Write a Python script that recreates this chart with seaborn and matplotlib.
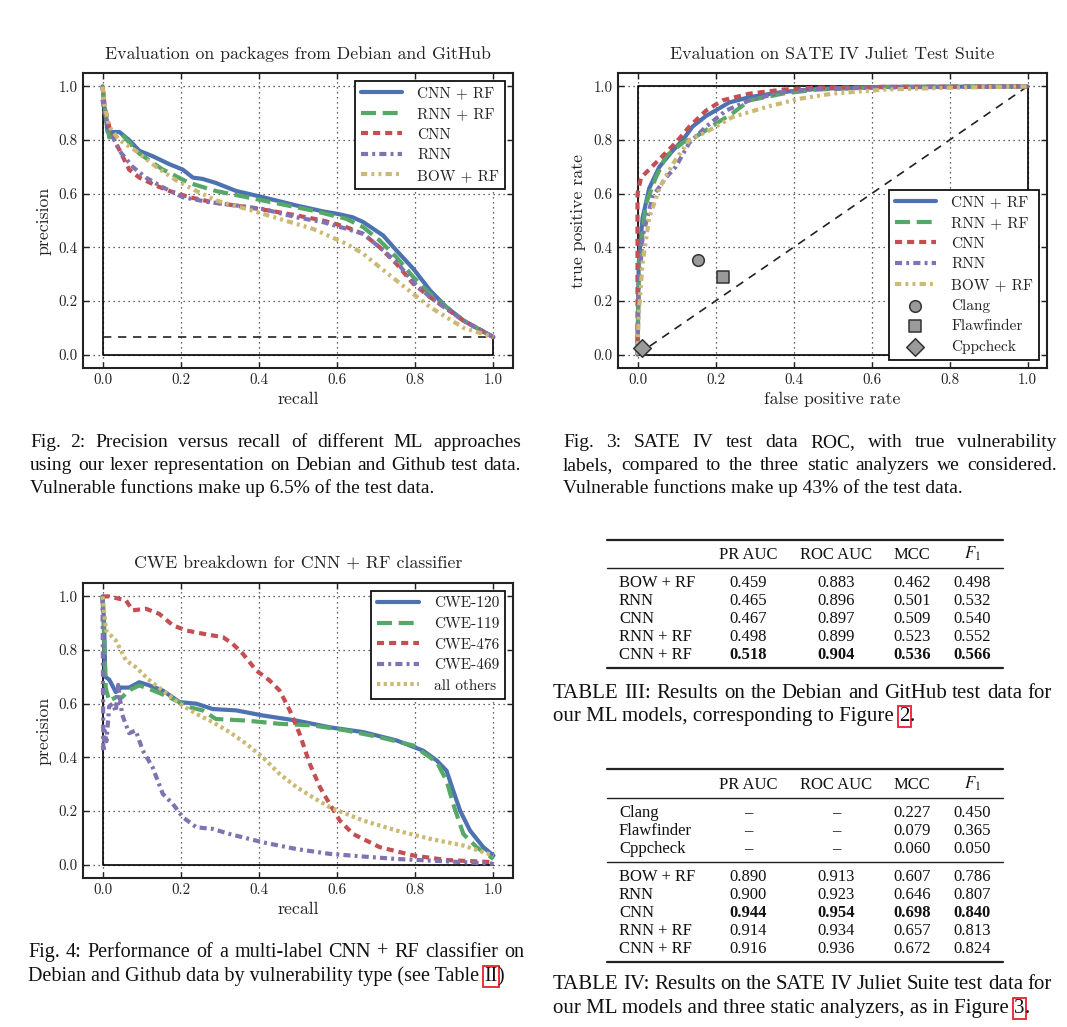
import numpy as np
import pandas as pd
import seaborn as sns
import matplotlib
matplotlib.use("Agg")
import matplotlib.pyplot as plt
from matplotlib.lines import Line2D
from matplotlib.font_manager import FontProperties

W, H = 1067, 1027
DPI = 100

# ---------------- Fig. 2 : precision / recall (Debian + GitHub) ----------------
cnn_rf_recall = [0.0, 0.005, 0.013, 0.043, 0.068, 0.094, 0.128, 0.171, 0.205, 0.231, 0.256, 0.29, 0.342,
                 0.41, 0.496, 0.564, 0.6, 0.64, 0.667, 0.718, 0.752, 0.795, 0.838, 0.88, 0.923, 1.0]
cnn_rf_prec = [1.0, 0.92, 0.83, 0.83, 0.80, 0.76, 0.74, 0.71, 0.69, 0.66, 0.655, 0.64, 0.61,
               0.587, 0.556, 0.534, 0.525, 0.512, 0.494, 0.444, 0.388, 0.32, 0.239, 0.177, 0.127, 0.065]
rnn_rf_recall = [0.0, 0.005, 0.017, 0.05, 0.094, 0.154, 0.222, 0.29, 0.368, 0.453, 0.538, 0.624, 0.667,
                 0.709, 0.752, 0.795, 0.838, 0.923, 1.0]
rnn_rf_prec = [1.0, 0.93, 0.81, 0.82, 0.75, 0.69, 0.64, 0.61, 0.587, 0.562, 0.537, 0.506, 0.475,
               0.425, 0.363, 0.289, 0.226, 0.127, 0.065]
cnn_recall = [0.0, 0.005, 0.017, 0.034, 0.068, 0.094, 0.137, 0.171, 0.222, 0.282, 0.368, 0.427, 0.496,
              0.564, 0.624, 0.667, 0.709, 0.752, 0.795, 0.838, 0.923, 1.0]
cnn_prec = [1.0, 0.93, 0.85, 0.79, 0.69, 0.66, 0.63, 0.61, 0.587, 0.568, 0.55, 0.537, 0.519,
            0.5, 0.475, 0.45, 0.40, 0.338, 0.264, 0.214, 0.127, 0.065]
rnn_recall = [0.0, 0.005, 0.017, 0.043, 0.077, 0.111, 0.154, 0.205, 0.274, 0.342, 0.41, 0.496, 0.564,
              0.624, 0.667, 0.709, 0.752, 0.795, 0.838, 0.923, 1.0]
rnn_prec = [0.95, 0.90, 0.84, 0.76, 0.70, 0.66, 0.624, 0.587, 0.568, 0.556, 0.543, 0.512, 0.494,
            0.469, 0.45, 0.40, 0.345, 0.27, 0.214, 0.127, 0.065]
bow_recall = [0.0, 0.005, 0.017, 0.043, 0.085, 0.137, 0.188, 0.24, 0.29, 0.368, 0.453, 0.538, 0.624,
              0.667, 0.709, 0.752, 0.795, 0.838, 0.923, 1.0]
bow_prec = [1.0, 0.93, 0.85, 0.80, 0.76, 0.70, 0.65, 0.61, 0.575, 0.543, 0.506, 0.469, 0.413,
            0.376, 0.326, 0.276, 0.226, 0.177, 0.10, 0.065]
base_rate = 0.065

# ---------------- Fig. 3 : ROC on SATE IV Juliet ----------------
roc_cnn_rf_fpr = [0, 0.003, 0.013, 0.03, 0.056, 0.09, 0.116, 0.141, 0.176, 0.2, 0.235, 0.287, 0.372, 0.458, 0.63, 1.0]
roc_cnn_rf_tpr = [0, 0.34, 0.51, 0.62, 0.70, 0.76, 0.80, 0.85, 0.89, 0.91, 0.94, 0.96, 0.979, 0.991, 0.998, 1.0]
roc_rnn_rf_fpr = [0, 0.004, 0.021, 0.047, 0.073, 0.116, 0.158, 0.2, 0.244, 0.287, 0.372, 0.458, 0.63, 1.0]
roc_rnn_rf_tpr = [0, 0.34, 0.56, 0.66, 0.74, 0.79, 0.82, 0.86, 0.90, 0.948, 0.973, 0.988, 0.998, 1.0]
roc_cnn_fpr = [0, 0, 0.009, 0.03, 0.064, 0.098, 0.133, 0.176, 0.218, 0.287, 0.372, 0.458, 0.63, 1.0]
roc_cnn_tpr = [0, 0.6, 0.66, 0.69, 0.74, 0.79, 0.85, 0.91, 0.948, 0.973, 0.988, 0.995, 0.998, 1.0]
roc_rnn_fpr = [0, 0.003, 0.013, 0.039, 0.073, 0.098, 0.133, 0.176, 0.227, 0.287, 0.372, 0.458, 0.63, 1.0]
roc_rnn_tpr = [0, 0.24, 0.44, 0.59, 0.66, 0.70, 0.79, 0.85, 0.91, 0.948, 0.979, 0.99, 0.996, 1.0]
roc_bow_fpr = [0, 0.003, 0.013, 0.03, 0.056, 0.09, 0.133, 0.184, 0.244, 0.33, 0.415, 0.5, 0.63, 0.8, 1.0]
roc_bow_tpr = [0, 0.15, 0.34, 0.51, 0.62, 0.71, 0.80, 0.836, 0.886, 0.923, 0.954, 0.973, 0.988, 0.995, 1.0]
tool_names = ["Clang", "Flawfinder", "Cppcheck"]
tool_fpr = [0.156, 0.219, 0.011]
tool_tpr = [0.351, 0.289, 0.025]

# ---------------- Fig. 4 : CWE breakdown ----------------
cwe120_recall = [0.0, 0.004, 0.007, 0.017, 0.034, 0.047, 0.068, 0.094, 0.12, 0.154, 0.197, 0.24, 0.282, 0.342,
                 0.41, 0.496, 0.581, 0.667, 0.752, 0.82, 0.855, 0.88, 0.897, 0.915, 0.94, 0.974, 1.0]
cwe120_prec = [1.0, 0.9, 0.70, 0.69, 0.643, 0.66, 0.66, 0.68, 0.668, 0.649, 0.606, 0.60, 0.58, 0.575,
               0.556, 0.537, 0.512, 0.494, 0.463, 0.425, 0.388, 0.35, 0.276, 0.2, 0.127, 0.065, 0.034]
cwe119_recall = [0.0, 0.004, 0.008, 0.017, 0.034, 0.05, 0.068, 0.094, 0.12, 0.171, 0.222, 0.256, 0.29,
                 0.368, 0.453, 0.538, 0.624, 0.709, 0.795, 0.855, 0.88, 0.897, 0.923, 0.957, 1.0]
cwe119_prec = [1.0, 0.85, 0.66, 0.61, 0.624, 0.624, 0.65, 0.668, 0.655, 0.624, 0.587, 0.575, 0.543,
               0.537, 0.525, 0.519, 0.5, 0.475, 0.444, 0.382, 0.313, 0.226, 0.114, 0.065, 0.021]
cwe476_recall = [0.0, 0.017, 0.06, 0.077, 0.111, 0.145, 0.18, 0.214, 0.256, 0.308, 0.333, 0.359, 0.393,
                 0.427, 0.453, 0.479, 0.504, 0.53, 0.556, 0.581, 0.607, 0.641, 0.709, 0.795, 0.88, 1.0]
cwe476_prec = [1.0, 1.0, 0.985, 0.948, 0.954, 0.935, 0.892, 0.873, 0.861, 0.848, 0.823, 0.786, 0.724,
               0.687, 0.649, 0.575, 0.488, 0.376, 0.289, 0.226, 0.164, 0.114, 0.065, 0.034, 0.017, 0.009]
cwe469_recall = [0.0, 0.002, 0.005, 0.01, 0.017, 0.026, 0.034, 0.04, 0.05, 0.068, 0.085, 0.103, 0.128,
                 0.154, 0.18, 0.205, 0.24, 0.282, 0.325, 0.41, 0.496, 0.581, 0.667, 0.752, 0.838, 0.923, 1.0]
cwe469_prec = [1.0, 0.42, 0.50, 0.46, 0.59, 0.60, 0.57, 0.67, 0.56, 0.49, 0.50, 0.425, 0.363,
               0.264, 0.226, 0.177, 0.139, 0.133, 0.114, 0.083, 0.058, 0.04, 0.03, 0.021, 0.015, 0.009, 0.003]
others_recall = [0.0, 0.009, 0.034, 0.06, 0.085, 0.12, 0.154, 0.197, 0.24, 0.282, 0.325, 0.368, 0.41,
                 0.453, 0.496, 0.538, 0.581, 0.624, 0.667, 0.752, 0.838, 0.923, 1.0]
others_prec = [1.0, 0.873, 0.836, 0.761, 0.736, 0.687, 0.649, 0.60, 0.562, 0.531, 0.494, 0.45, 0.40,
               0.338, 0.289, 0.251, 0.214, 0.189, 0.164, 0.127, 0.096, 0.071, 0.034]

# ---------------- Tables ----------------
tab_cols = ["PR AUC", "ROC AUC", "MCC", r"$F_1$"]
t3_models = ["BOW + RF", "RNN", "CNN", "RNN + RF", "CNN + RF"]
t3_pr_auc = [0.459, 0.465, 0.467, 0.498, 0.518]
t3_roc_auc = [0.883, 0.896, 0.897, 0.899, 0.904]
t3_mcc = [0.462, 0.501, 0.509, 0.523, 0.536]
t3_f1 = [0.498, 0.532, 0.540, 0.552, 0.566]

t4_tools = ["Clang", "Flawfinder", "Cppcheck"]
t4_tool_mcc = [0.227, 0.079, 0.060]
t4_tool_f1 = [0.450, 0.365, 0.050]
t4_models = ["BOW + RF", "RNN", "CNN", "RNN + RF", "CNN + RF"]
t4_pr_auc = [0.890, 0.900, 0.944, 0.914, 0.916]
t4_roc_auc = [0.913, 0.923, 0.954, 0.934, 0.936]
t4_mcc = [0.607, 0.646, 0.698, 0.657, 0.672]
t4_f1 = [0.786, 0.807, 0.840, 0.813, 0.824]

# ---------------- style ----------------
sns.set_theme(style="white")
plt.rcParams.update({
    "font.family": ["cmr10"],
    "mathtext.fontset": "stix",
    "axes.formatter.use_mathtext": True,
    "axes.unicode_minus": False,
})

BLUE, GREEN, RED, PURPLE, YELLOW = "#4C72B0", "#55A868", "#C44E52", "#8172B2", "#CCB974"
LS_CNN_RF = "-"
LS_RNN_RF = (0, (3.6, 1.6))
LS_CNN = (0, (1.7, 1.2))
LS_RNN = (0, (1.7, 1.0, 0.7, 1.0))
LS_BOW = (0, (1.5, 1.0, 0.7, 1.0, 0.7, 1.0))
LS_DOT = (0, (0.8, 0.8))
LW = 3.0

fig = plt.figure(figsize=(W / DPI, H / DPI), dpi=DPI)
fig.patch.set_facecolor("white")


def fx(px):
    return px / W


def fy(py):
    return 1 - py / H


def add_axes(l, t, r, b):
    return fig.add_axes([fx(l), fy(b), (r - l) / W, (b - t) / H])


def style_ax(ax, title, xlabel, ylabel):
    ax.set_xlim(-0.05, 1.05)
    ax.set_ylim(-0.05, 1.05)
    ticks = [0.0, 0.2, 0.4, 0.6, 0.8, 1.0]
    ax.set_xticks(ticks)
    ax.set_yticks(ticks)
    ax.set_xticklabels([f"{t:.1f}" for t in ticks])
    ax.set_yticklabels([f"{t:.1f}" for t in ticks])
    ax.set_axisbelow(True)
    ax.grid(True, linestyle=(0, (1, 3)), color="#333333", linewidth=0.9)
    ax.tick_params(direction="in", top=True, right=True, bottom=True, left=True,
                   length=4, width=1, color="#222222", labelcolor="#222222",
                   labelsize=10.8, pad=4)
    for s in ax.spines.values():
        s.set_color("#222222")
        s.set_linewidth(1.5)
    ax.set_title(title, fontsize=12.8, pad=10, color="#222222")
    ax.set_xlabel(xlabel, fontsize=12.8, labelpad=3, color="#222222")
    ax.set_ylabel(ylabel, fontsize=12.8, labelpad=5, color="#222222")


def curve(ax, x, y, color, ls, label=None, lw=LW, z=3):
    sns.lineplot(x=x, y=y, ax=ax, color=color, linestyle=ls, linewidth=lw,
                 sort=False, estimator=None, label=label, zorder=z)


def legend(ax, loc):
    leg = ax.legend(loc=loc, fontsize=11, handlelength=2.7, handletextpad=1.0,
                    labelspacing=0.45, borderpad=0.4, borderaxespad=0.5,
                    fancybox=False, framealpha=1, edgecolor="#111111")
    leg.get_frame().set_linewidth(1.3)
    for t in leg.get_texts():
        t.set_color("#222222")
    return leg


# ---- Fig. 2 ----
ax1 = add_axes(83, 73, 513, 368)
curve(ax1, [0, 0, 1, 1], [1, 0, 0, base_rate], "black", "-", lw=1.2, z=2)
curve(ax1, [0, 1], [base_rate, base_rate], "#222222", (0, (5, 4)), lw=1.2, z=2)
curve(ax1, cnn_rf_recall, cnn_rf_prec, BLUE, LS_CNN_RF, "CNN + RF")
curve(ax1, rnn_rf_recall, rnn_rf_prec, GREEN, LS_RNN_RF, "RNN + RF")
curve(ax1, cnn_recall, cnn_prec, RED, LS_CNN, "CNN")
curve(ax1, rnn_recall, rnn_prec, PURPLE, LS_RNN, "RNN")
curve(ax1, bow_recall, bow_prec, YELLOW, LS_BOW, "BOW + RF")
style_ax(ax1, "Evaluation on packages from Debian and GitHub", "recall", "precision")
legend(ax1, "upper right")

# ---- Fig. 3 ----
ax2 = add_axes(618, 73, 1047, 368)
curve(ax2, [0, 0, 1, 1, 0], [0, 1, 1, 0, 0], "black", "-", lw=1.2, z=2)
curve(ax2, [0, 1], [0, 1], "#222222", (0, (5, 4)), lw=1.2, z=2)
curve(ax2, roc_cnn_rf_fpr, roc_cnn_rf_tpr, BLUE, LS_CNN_RF, "CNN + RF")
curve(ax2, roc_rnn_rf_fpr, roc_rnn_rf_tpr, GREEN, LS_RNN_RF, "RNN + RF")
curve(ax2, roc_cnn_fpr, roc_cnn_tpr, RED, LS_CNN, "CNN")
curve(ax2, roc_rnn_fpr, roc_rnn_tpr, PURPLE, LS_RNN, "RNN")
curve(ax2, roc_bow_fpr, roc_bow_tpr, YELLOW, LS_BOW, "BOW + RF")
for name, xv, yv, mk, sz in zip(tool_names, tool_fpr, tool_tpr, ["o", "s", "D"], [70, 70, 80]):
    sns.scatterplot(x=[xv], y=[yv], ax=ax2, marker=mk, s=sz, color="#9a9a9a",
                    edgecolor="#333333", linewidth=1.1, label=name, zorder=5)
style_ax(ax2, "Evaluation on SATE IV Juliet Test Suite", "false positive rate", "true positive rate")
legend(ax2, "lower right")

# ---- Fig. 4 ----
ax3 = add_axes(83, 583, 513, 878)
curve(ax3, [0, 0, 1], [1, 0, 0], "black", "-", lw=1.2, z=2)
curve(ax3, cwe120_recall, cwe120_prec, BLUE, LS_CNN_RF, "CWE-120")
curve(ax3, cwe119_recall, cwe119_prec, GREEN, LS_RNN_RF, "CWE-119")
curve(ax3, cwe476_recall, cwe476_prec, RED, LS_CNN, "CWE-476")
curve(ax3, cwe469_recall, cwe469_prec, PURPLE, LS_RNN, "CWE-469")
curve(ax3, others_recall, others_prec, YELLOW, LS_DOT, "all others")
style_ax(ax3, "CWE breakdown for CNN + RF classifier", "recall", "precision")
legend(ax3, "upper right")

# ---------------- text helpers ----------------
renderer = fig.canvas.get_renderer()
CAP_S = FontProperties(family="Liberation Serif", size=14)
CAP_M = FontProperties(family="Liberation Serif", size=14.5)
CAP = FontProperties(family="Liberation Serif", size=15)
TAB = FontProperties(family="Liberation Serif", size=12)
TABB = FontProperties(family="Liberation Serif", size=12, weight="bold")
TXT = "#111111"


def tw(s, fp):
    return renderer.get_text_width_height_descent(s, fp, ismath=False)[0]


def put(x, yb, s, fp, boxed=False, ha="left"):
    kw = {}
    if boxed:
        kw["bbox"] = dict(boxstyle="square,pad=0.06", fc="none", ec="#e8202a", lw=1.3)
    fig.text(fx(x), fy(yb), s, fontproperties=fp, ha=ha, va="baseline", color=TXT, **kw)


def justified(x0, x1, yb, line, fp=CAP):
    words = line.split()
    ws = [tw(w, fp) for w in words]
    gap = (x1 - x0 - sum(ws)) / (len(words) - 1)
    x = x0
    for w, wd in zip(words, ws):
        put(x, yb, w, fp)
        x += wd + gap


def ragged(x0, yb, pieces, fp=CAP):
    space = tw("a a", fp) - tw("aa", fp)
    x = x0
    for text, boxed in pieces:
        stripped = text.rstrip(" ")
        put(x, yb, stripped, fp, boxed)
        x += tw(stripped, fp) + space * (len(text) - len(stripped))


# captions of figures
justified(30, 521, 447, "Fig. 2: Precision versus recall of different ML approaches", CAP_S)
justified(30, 521, 470, "using our lexer representation on Debian and Github test data.", CAP_S)
ragged(30, 493, [("Vulnerable functions make up 6.5% of the test data.", False)], CAP_S)

justified(563, 1057, 447, "Fig. 3: SATE IV test data ROC, with true vulnerability", CAP_S)
justified(563, 1057, 470, "labels, compared to the three static analyzers we considered.", CAP_S)
ragged(563, 493, [("Vulnerable functions make up 43% of the test data.", False)], CAP_S)

justified(28, 524, 957, "Fig. 4: Performance of a multi-label CNN + RF classifier on", CAP_M)
ragged(28, 981, [("Debian and Github data by vulnerability type (see Table ", False), ("II", True), (")", False)], CAP_M)

justified(553, 1052, 698, "TABLE III: Results on the Debian and GitHub test data for")
ragged(553, 721, [("our ML models, corresponding to Figure ", False), ("2", True), (".", False)])

justified(553, 1052, 989, "TABLE IV: Results on the SATE IV Juliet Suite test data for")
ragged(553, 1013, [("our ML models and three static analyzers, as in Figure ", False), ("3", True), (".", False)])


# ---------------- tables ----------------
COL_X = [748, 836, 912, 972]
LABEL_X = 619


def rule(y, lw):
    fig.add_artist(Line2D([fx(607), fx(1003)], [fy(y), fy(y)], transform=fig.transFigure,
                          color="#222222", linewidth=lw))


def header(y):
    for cx, c in zip(COL_X, tab_cols):
        fig.text(fx(cx), fy(y + 5), c, fontproperties=TAB, ha="center", va="baseline", color=TXT)


def row(y, label, values, bold_flags):
    put(LABEL_X, y + 5, label, TAB)
    for cx, v, b in zip(COL_X, values, bold_flags):
        s = "\u2013" if v is None else f"{v:.3f}"
        put(cx, y + 5, s, TABB if b else TAB, ha="center")


# Table III
rule(540, 1.6)
header(554)
rule(568, 1.0)
t3_cols = [t3_pr_auc, t3_roc_auc, t3_mcc, t3_f1]
for i, m in enumerate(t3_models):
    vals = [c[i] for c in t3_cols]
    bolds = [c[i] == max(c) for c in t3_cols]
    row(582 + 18 * i, m, vals, bolds)
rule(668, 1.6)

# Table IV
rule(769, 1.6)
header(784)
rule(798, 1.0)
for i, m in enumerate(t4_tools):
    row(812 + 18 * i, m, [None, None, t4_tool_mcc[i], t4_tool_f1[i]], [False] * 4)
rule(862, 1.0)
t4_cols = [t4_pr_auc, t4_roc_auc, t4_mcc, t4_f1]
for i, m in enumerate(t4_models):
    vals = [c[i] for c in t4_cols]
    bolds = [c[i] == max(c) for c in t4_cols]
    row(876 + 18 * i, m, vals, bolds)
rule(962, 1.6)

fig.savefig("out.png", dpi=DPI, facecolor="white")
